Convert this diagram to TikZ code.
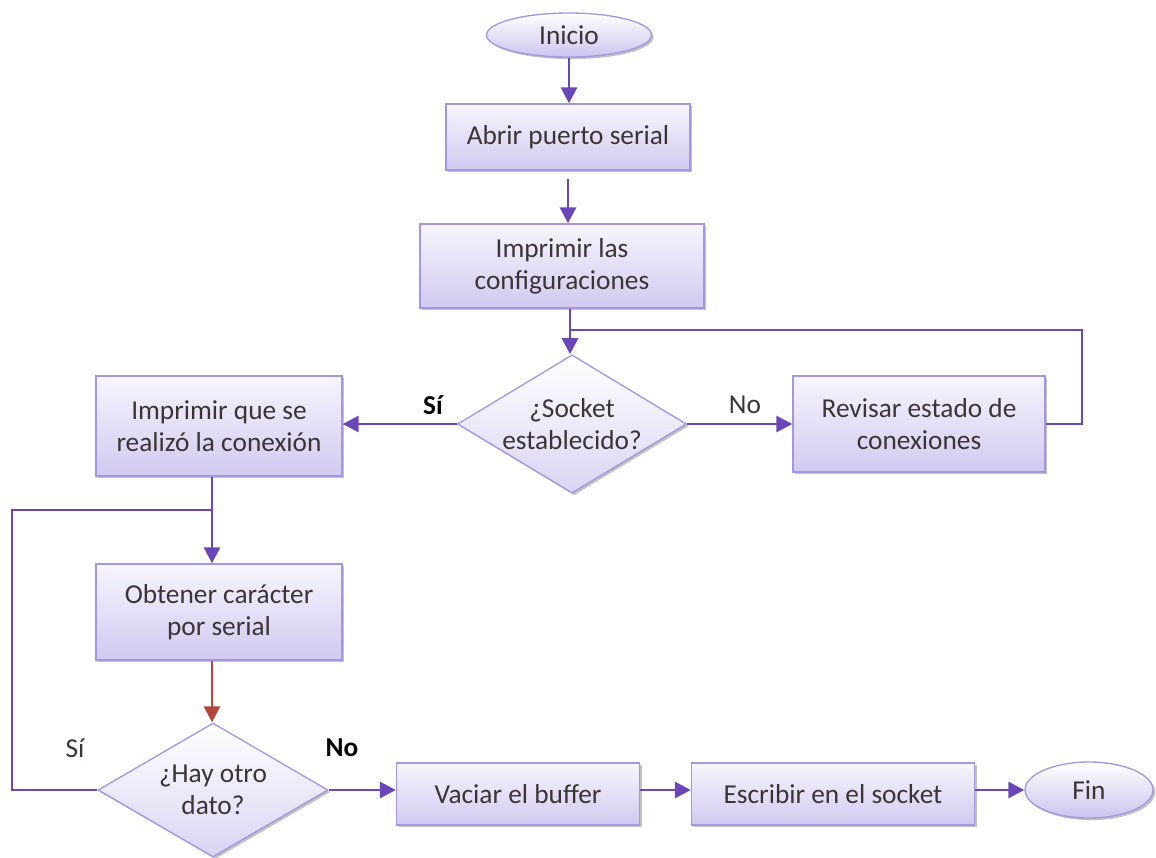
\documentclass[tikz,border=0pt]{standalone}
\usepackage{fontspec}
\setmainfont{Carlito}
\usetikzlibrary{shapes.geometric,arrows.meta,shadows}
\newlength\px
\setlength\px{0.75pt}
\definecolor{flowline}{HTML}{6B46B8}
\definecolor{flowred}{HTML}{B8443E}
\definecolor{boxedge}{HTML}{A597DF}
\definecolor{boxtop}{HTML}{F7F5FD}
\definecolor{boxbot}{HTML}{D2C9F0}
\definecolor{txt}{HTML}{3C3434}

\begin{document}
\begin{tikzpicture}[x=0.75pt,y=-0.75pt,
  base/.style={draw=boxedge, line width=1pt, top color=boxtop, bottom color=boxbot,
    text=txt, font=\fontsize{20.5}{24}\selectfont, align=center,
    drop shadow={shadow xshift=1.6pt, shadow yshift=-1.6pt, fill=gray!70, opacity=0.7}},
  procbox/.style={base, rectangle, inner sep=0pt},
  decision/.style={base, diamond, aspect=1.6, inner sep=0pt, top color=white, bottom color=boxbot!80},
  term/.style={base, ellipse, inner sep=0pt, top color=white, bottom color=boxbot!90!boxedge},
  conn/.style={draw=flowline, line width=2.2pt},
  flow/.style={conn, -{Triangle[length=12pt, width=12pt]}},
  redflow/.style={flow, draw=flowred},
  lbl/.style={text=txt, font=\fontsize{20.5}{24}\selectfont},
  lblb/.style={text=black, font=\fontsize{20.5}{24}\selectfont\bfseries}
]
\useasboundingbox (0,0) rectangle (1156,857);

% boxes
\node[term, minimum width=165\px, minimum height=44\px] (ini) at (569,35) {Inicio};
\node[procbox, minimum width=244\px, minimum height=66\px] (abrir) at (568,137) {Abrir puerto serial};
\node[procbox, minimum width=284\px, minimum height=84\px] (conf) at (562,266) {Imprimir las\\configuraciones};
\node[decision, minimum width=229\px, minimum height=138\px] (sock) at (572,424) {¿Socket\\establecido?};
\node[procbox, minimum width=246\px, minimum height=100\px] (conx) at (219,426) {Imprimir que se\\realizó la conexión};
\node[procbox, minimum width=252\px, minimum height=96\px] (rev) at (919,424) {Revisar estado de\\conexiones};
\node[procbox, minimum width=246\px, minimum height=96\px] (obt) at (219,612) {Obtener carácter\\por serial};
\node[decision, minimum width=230\px, minimum height=134\px] (otro) at (213,790) {¿Hay otro\\dato?};
\node[procbox, minimum width=243\px, minimum height=62\px] (vac) at (518,794) {Vaciar el buffer};
\node[procbox, minimum width=283\px, minimum height=62\px] (esc) at (833,794) {Escribir en el socket};
\node[term, minimum width=128\px, minimum height=56\px] (fin) at (1089,790) {Fin};

% junction points of the two loops
\coordinate (j1) at (570,330);
\coordinate (loopr) at (1082,330);
\coordinate (j2) at (212,510);
\coordinate (loopl) at (12,510);

% connectors
\draw[flow] (ini.south) -- (ini.south |- abrir.north);
\draw[flow] ([yshift=-6pt]abrir.south) -- (abrir.south |- conf.north);
\draw[flow] (conf.south -| j1) -- (j1 |- sock.north);
\draw[conn] (rev.east) -| (loopr) -- (j1);
\draw[flow] (sock.west) -- (sock.west -| conx.east);
\draw[flow] (sock.east) -- (sock.east -| rev.west);
\draw[flow] (conx.south -| j2) -- (j2 |- obt.north);
\draw[conn] (otro.west) -| (loopl) -- (j2);
\draw[redflow] (obt.south -| j2) -- (j2 |- otro.north);
\draw[flow] (otro.east) -- (otro.east -| vac.west);
\draw[flow] (vac.east |- otro.east) -- (esc.west |- otro.east);
\draw[flow] (esc.east |- otro.east) -- (fin.west);

% branch labels
\node[lblb] (s1) at (433,405) {Sí};
\node[lbl] (n1) at (745,405) {No};
\node[lbl] (s2) at (75,748) {Sí};
\node[lblb] (n2) at (342,748) {No};
\end{tikzpicture}
\end{document}
